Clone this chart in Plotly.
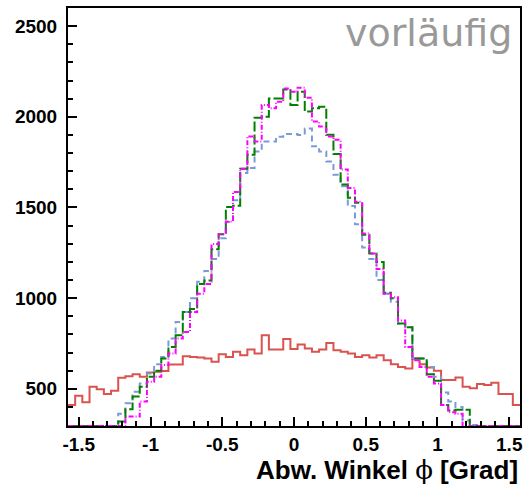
import numpy as np
import plotly.graph_objects as go

# 63 bins of width 0.05 between -1.575 and 1.575
X_MIN, X_MAX, N_BINS = -1.575, 1.575, 63
Y_MIN, Y_MAX = 295, 2600

red = [411, 462, 426, 512, 497, 472, 490, 561, 570, 581, 567, 590, 594, 598, 634, 634,
       680, 676, 673, 667, 649, 691, 676, 704, 685, 717, 695, 795, 717, 717, 775, 720,
       744, 722, 704, 717, 753, 713, 704, 695, 676, 685, 673, 685, 658, 636, 621, 612,
       667, 636, 617, 599, 548, 548, 563, 512, 503, 526, 521, 534, 472, 472, 411]

green = [2, 5, 12, 25, 50, 100, 180, 320, 388, 457, 512, 567, 600, 667, 731, 795,
         923, 940, 1078, 1097, 1270, 1353, 1502, 1510, 1714, 1791, 1995, 2001, 2101, 2101, 2150, 2065,
         2138, 2029, 2047, 2056, 1901, 1795, 1627, 1553, 1526, 1350, 1246, 1200, 1030, 1000, 860, 840,
         667, 667, 580, 545, 411, 380, 384, 384, 200, 120, 60, 30, 15, 6, 2]

magenta = [2, 5, 12, 25, 50, 90, 150, 250, 347, 347, 430, 539, 567, 631, 695, 777,
           813, 923, 1024, 1078, 1298, 1353, 1422, 1586, 1714, 1892, 1864, 2065, 2047, 2083, 2156, 2138,
           2160, 2105, 1974, 1946, 1892, 1873, 1709, 1608, 1531, 1356, 1246, 1161, 1024, 1005, 877, 731,
           658, 621, 567, 530, 411, 371, 362, 250, 160, 100, 60, 30, 15, 6, 2]

blue = [2, 5, 12, 25, 50, 100, 200, 362, 420, 484, 530, 585, 636, 676, 777, 868,
        923, 1000, 1090, 1150, 1216, 1330, 1420, 1540, 1690, 1718, 1809, 1864, 1864, 1890, 1905, 1905,
        1900, 1935, 1837, 1809, 1754, 1681, 1617, 1508, 1407, 1279, 1216, 1100, 1024, 980, 860, 840,
        667, 667, 621, 567, 480, 430, 400, 325, 300, 150, 70, 30, 15, 6, 2]

x_tickvals = [-1.5, -1, -0.5, 0, 0.5, 1, 1.5]
x_ticktext = ["-1.5", "-1", "-0.5", "0", "0.5", "1", "1.5"]
y_tickvals = [500, 1000, 1500, 2000, 2500]
y_ticktext = ["500", "1000", "1500", "2000", "2500"]

edges = np.linspace(X_MIN, X_MAX, N_BINS + 1)


def step_trace(vals, color, dash, width=2):
    v = np.clip(np.asarray(vals, dtype=float), Y_MIN, None)
    y = np.append(v, v[-1])
    return go.Scatter(x=edges, y=y, mode="lines", line=dict(color=color, width=width, dash=dash, shape="hv"),
                      hoverinfo="skip", showlegend=False)


fig = go.Figure()
fig.add_trace(step_trace(red, "#d9534f", "solid"))
fig.add_trace(step_trace(blue, "#7b9bd6", "6px,4px"))
fig.add_trace(step_trace(green, "#007f00", "10px,3px"))
fig.add_trace(step_trace(magenta, "#ff00ff", "5px,2px,1px,2px"))

tick_font = dict(family="Liberation Sans, Arial, sans-serif", size=19, color="black", weight="bold")

fig.update_layout(
    width=529, height=488,
    margin=dict(l=68, r=8, t=6, b=62),
    paper_bgcolor="white", plot_bgcolor="white",
    xaxis=dict(range=[X_MIN, X_MAX], tickvals=x_tickvals, ticktext=x_ticktext,
               ticks="inside", ticklen=9, tickwidth=1.5, tickcolor="black",
               minor=dict(dtick=0.1, tick0=0, ticks="inside", ticklen=5, tickwidth=1.5, tickcolor="black"),
               showline=True, linewidth=2, linecolor="black", mirror=True, showgrid=False, zeroline=False,
               tickfont=tick_font),
    yaxis=dict(range=[Y_MIN, Y_MAX], tickvals=y_tickvals, ticktext=y_ticktext,
               ticks="inside", ticklen=9, tickwidth=1.5, tickcolor="black",
               minor=dict(dtick=100, tick0=0, ticks="inside", ticklen=5, tickwidth=1.5, tickcolor="black"),
               showline=True, linewidth=2, linecolor="black", mirror=True, showgrid=False, zeroline=False,
               tickfont=tick_font, ticklabelstandoff=5),
)

fig.add_annotation(xref="paper", yref="paper", x=1.0, y=-0.105, xanchor="right", yanchor="middle",
                   text="<b>Abw. Winkel </b><span style='font-family:DejaVu Serif'>ϕ</span><b> [Grad]</b>",
                   showarrow=False,
                   font=dict(family="Liberation Sans, Arial, sans-serif", size=26, color="black"))
fig.add_annotation(xref="paper", yref="paper", x=0.987, y=0.94, xanchor="right", yanchor="middle",
                   text="vorläufig", showarrow=False,
                   font=dict(family="DejaVu Sans, sans-serif", size=38, color="#999999"))

fig.write_html("out.html", config={"displayModeBar": False},
               post_script="document.body.style.margin='0';document.body.style.overflow='hidden';")
